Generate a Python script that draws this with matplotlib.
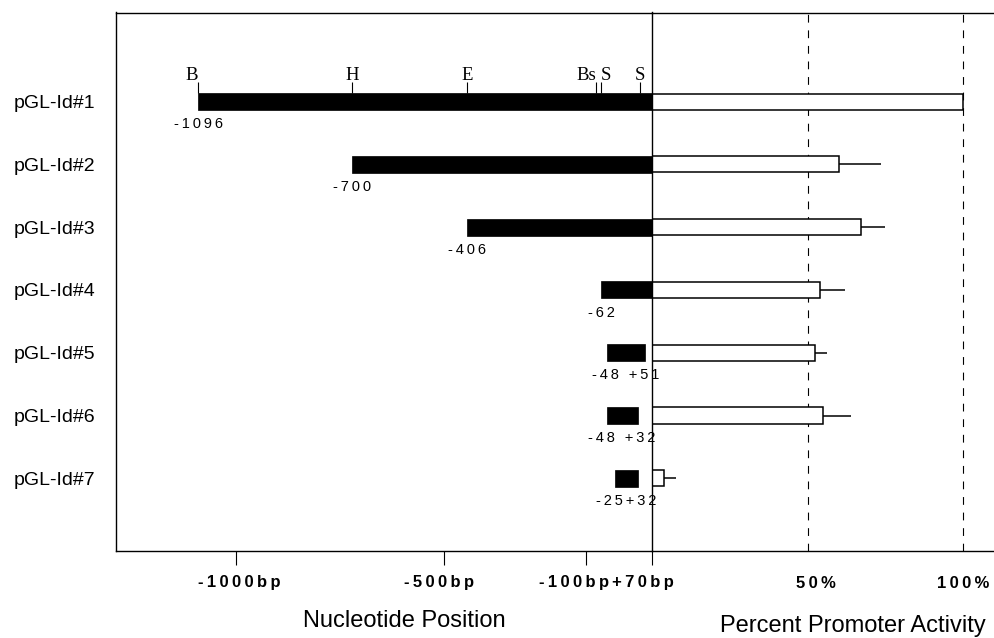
import matplotlib
matplotlib.use("Agg")
import matplotlib.pyplot as plt
from matplotlib.transforms import ScaledTranslation

# ---------------- data ----------------
constructs = ['pGL-Id#1', 'pGL-Id#2', 'pGL-Id#3', 'pGL-Id#4',
              'pGL-Id#5', 'pGL-Id#6', 'pGL-Id#7']
start_bp = [-1096, -700, -406, -62, -48, -48, -25]
end_bp = [70, 70, 70, 70, 51, 32, 32]
end_labels = ['-1096', '-700', '-406', '-62', '-48 +51', '-48 +32', '-25+32']
activity = [100, 60.1, 67.1, 54.0, 52.2, 54.7, 3.7]
activity_err = [0, 13.3, 7.8, 7.8, 3.9, 9.3, 3.8]
site_labels = ['B', 'H', 'E', 'Bs', 'S', 'S']
site_bp = [-1096, -700, -406, -75, -62, 38]
site_ha = ['right', 'center', 'center', 'right', 'left', 'center']
bp_ticks = [-1000, -465, -100, 70]
bp_ticklabels = ['-1000bp', '-500bp', '-100bp', '+70bp']
pct_ticks = [50, 100]
pct_ticklabels = ['50%', '100%']

# horizontal nudges (pixels) of tick labels, as placed in the original figure
bp_label_shift = [4, -5, -12, -10]
pct_label_shift = [8, 0]

SANS = ['Liberation Sans', 'DejaVu Sans']
SERIF = ['Liberation Serif', 'DejaVu Serif']


def spaced(s, sp='\u2009'):
    return sp.join(list(s))


W, H = 995, 638
fig = plt.figure(figsize=(W / 100, H / 100), dpi=100)

left_px, mid_px, right_px = 116, 652.5, 995
top_px, bot_px = 12.5, 550.5
axL = fig.add_axes([left_px / W, 1 - bot_px / H, (mid_px - left_px) / W, (bot_px - top_px) / H])
axR = fig.add_axes([mid_px / W, 1 - bot_px / H, (right_px - mid_px) / W, (bot_px - top_px) / H])
axR.patch.set_alpha(0)

rows = list(range(len(constructs)))
ylim = (7.15, -1.42)
bar_h = 0.27

# ---- left panel: nucleotide positions ----
axL.barh(rows, [e - s for s, e in zip(start_bp, end_bp)], left=start_bp,
         height=bar_h, color='black', edgecolor='black', linewidth=0.5)
axL.set_xlim(-1307, 70)
axL.set_ylim(*ylim)

for r, s, e, lab in zip(rows, start_bp, end_bp, end_labels):
    xc = s if e >= 70 else (s + e) / 2
    axL.text(xc, r + 0.36, spaced(lab, '\u2009'), ha='center', va='center',
             fontsize=10.5, family=SANS, color='black')

# restriction sites on first construct
top0 = rows[0] - bar_h / 2
axL.vlines(site_bp, top0 - 0.17, top0, color='black', linewidth=0.8)
for lab, x, ha in zip(site_labels, site_bp, site_ha):
    axL.text(x, top0 - 0.21, lab, ha=ha, va='baseline', fontsize=13.5,
             family=SERIF, color='black')

axL.set_yticks(rows)
axL.set_yticklabels(constructs, fontsize=14, family=SANS)
axL.tick_params(axis='y', length=0, pad=15)
axL.set_xticks(bp_ticks)
axL.set_xticklabels([spaced(t) for t in bp_ticklabels], fontsize=12,
                    fontweight='bold', family=SANS)
axL.tick_params(axis='x', direction='out', length=10, width=0.8, pad=8)
for lbl, dx in zip(axL.get_xticklabels(), bp_label_shift):
    lbl.set_transform(lbl.get_transform() + ScaledTranslation(dx / 100, 0, fig.dpi_scale_trans))
axL.spines['right'].set_visible(False)
for sp in axL.spines.values():
    sp.set_linewidth(1.0)

# ---- right panel: percent promoter activity ----
axR.barh(rows, activity, left=0, height=bar_h * 0.95, color='white',
         edgecolor='black', linewidth=1.1, zorder=3)
axR.errorbar(activity, rows, xerr=[[0] * len(activity_err), activity_err],
             fmt='none', ecolor='black', elinewidth=1.1, capsize=0, zorder=2)
for t in pct_ticks:
    axR.axvline(t, color='black', linewidth=0.8, linestyle=(0, (7, 7)), zorder=1)
axR.set_xlim(0, 110.2)
axR.set_ylim(*ylim)
axR.set_yticks([])
axR.set_xticks(pct_ticks)
axR.set_xticklabels([spaced(t) for t in pct_ticklabels], fontsize=12,
                    fontweight='bold', family=SANS)
axR.tick_params(axis='x', length=0, pad=18)
for lbl, dx in zip(axR.get_xticklabels(), pct_label_shift):
    lbl.set_transform(lbl.get_transform() + ScaledTranslation(dx / 100, 0, fig.dpi_scale_trans))
axR.spines['right'].set_visible(False)
for sp in axR.spines.values():
    sp.set_linewidth(1.0)
axR.spines['left'].set_zorder(5)

fig.text(404.5 / W, 1 - 621 / H, 'Nucleotide Position', ha='center', va='center',
         fontsize=17, family=SANS)
fig.text(852.5 / W, 1 - 626 / H, 'Percent Promoter Activity', ha='center', va='center',
         fontsize=17, family=SANS)

fig.savefig('out.png', dpi=100)
